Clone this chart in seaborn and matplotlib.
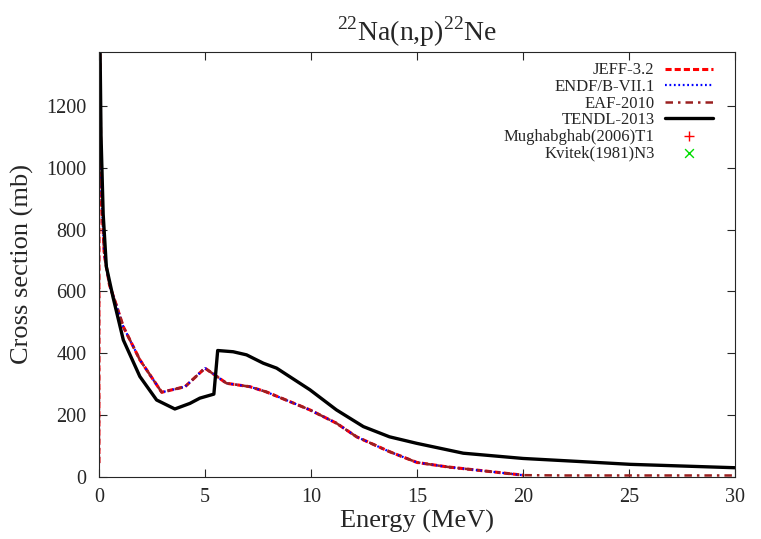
#importing packages
import matplotlib
matplotlib.use("Agg")
import matplotlib.pyplot as plt
import seaborn as sns
import numpy as np

#evaluated data (energy in MeV, cross section in mb)
endfE = [0.0, 0.003, 0.03, 0.1, 0.25, 0.5, 0.8, 1.15, 1.93, 2.96, 4.06, 5.0, 6.02, 7.12, 7.9,
         9.95, 11.2, 12.15, 13.7, 15.0, 16.4, 20.0]
endfXS = [45, 20000, 1500, 950, 720, 620, 560, 486, 379, 274, 292, 352, 303, 292, 275,
          217, 174, 130, 82, 47, 33, 6]
eafE = endfE + [22.0, 25.0, 30.0]
eafXS = endfXS + [5, 5, 5]
tendlE = [0.01, 0.05, 0.1, 0.2, 0.35, 0.67, 1.15, 1.93, 2.72, 3.58, 4.29, 4.76, 5.42, 5.6, 6.33,
          6.96, 7.28, 7.75, 8.38, 9.95, 11.2, 12.47, 13.7, 14.98, 17.18, 20.0, 22.7, 25.05, 30.0]
tendlXS = [20000, 1400, 1100, 850, 680, 580, 443, 325, 249, 220, 238, 255, 268, 409, 405,
           395, 384, 368, 352, 282, 217, 163, 130, 109, 77, 60, 50, 41, 30]
#experimental points (thermal, off scale)
mughE = [2.53e-8]
mughXS = [2.8e7]
kvitE = [2.53e-8]
kvitXS = [3.0e7]

sns.set_style("ticks")
plt.rcParams['font.family'] = ['Liberation Serif', 'DejaVu Serif']
plt.rcParams['mathtext.fontset'] = 'custom'
plt.rcParams['mathtext.rm'] = 'Liberation Serif'

fig = plt.figure(figsize=(7.61, 5.39), dpi=100)
ax = fig.add_axes([0.130, 0.115, 0.836, 0.789])

sns.lineplot(x=endfE, y=endfXS, ax=ax, color="red", lw=2.2, label="JEFF-3.2",
             linestyle=(0, (2, 1)), sort=False)
sns.lineplot(x=endfE, y=endfXS, ax=ax, color="blue", lw=1.6, label="ENDF/B-VII.1",
             linestyle=(0, (0.8, 1.2)), sort=False)
sns.lineplot(x=eafE, y=eafXS, ax=ax, color="#9a2020", lw=1.8, label="EAF-2010",
             linestyle=(0, (3, 2, 1, 2)), sort=False)
sns.lineplot(x=tendlE, y=tendlXS, ax=ax, color="black", lw=2.4, label="TENDL-2013", sort=False)
sns.scatterplot(x=mughE, y=mughXS, ax=ax, color="red", marker="+", s=60, linewidth=1,
                label="Mughabghab(2006)T1")
sns.scatterplot(x=kvitE, y=kvitXS, ax=ax, color="#00dd00", marker="x", s=40, linewidth=1,
                label="Kvitek(1981)N3")

ax.set_xlim(0, 30)
ax.set_ylim(0, 1375)
ax.set_xticks(range(0, 31, 5))
ax.set_yticks(range(0, 1201, 200))
ax.tick_params(direction="in", top=True, right=True, labelsize=14.5, length=6, width=0.8)
ax.tick_params(axis="x", pad=8)
ax.tick_params(axis="y", pad=9)
ax.set_xlabel("Energy (MeV)", fontsize=19, labelpad=2)
ax.set_ylabel("Cross section (mb)", fontsize=19, labelpad=9)
ax.set_title(r"$^{22}$Na(n,p)$^{22}$Ne", fontsize=20, pad=8)
for s in ax.spines.values():
    s.set_linewidth(0.8)

leg = ax.legend(loc="upper right", frameon=False, markerfirst=False, fontsize=12,
                handlelength=2.9, labelspacing=0.034, borderaxespad=0, borderpad=0,
                handletextpad=0.6, bbox_to_anchor=(0.965, 0.975))
for col in leg._legend_handle_box.get_children():
    col.align = "right"

plt.savefig("out.png", dpi=100)
plt.close()
